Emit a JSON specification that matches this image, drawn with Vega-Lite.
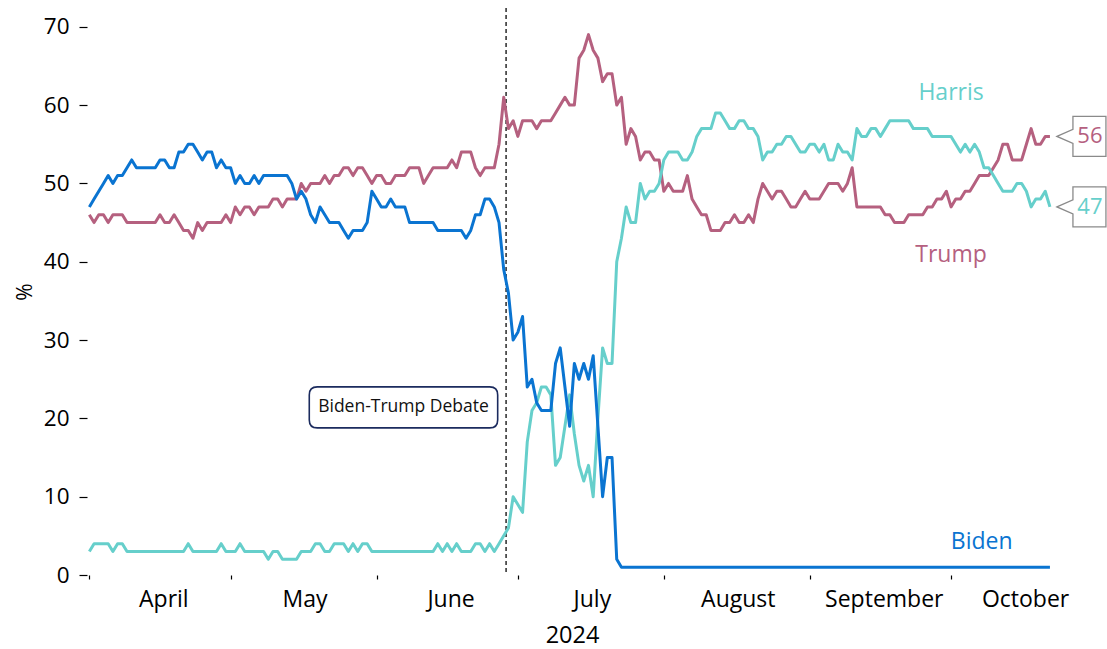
{
  "$schema": "https://vega.github.io/schema/vega-lite/v6.json",
  "width": 970,
  "height": 567,
  "autosize": {"type": "none"},
  "padding": {"left": 87, "top": 8, "right": 50, "bottom": 74},
  "background": "white",
  "config": {
    "view": {"stroke": null},
    "font": "Open Sans",
    "axis": {"grid": false, "domain": false, "labelColor": "#000", "titleColor": "#000", "tickColor": "#000", "labelFont": "Open Sans", "titleFont": "Open Sans"}
  },
  "datasets": {
    "polls": [
      {"date":"2024-04-01","candidate":"Trump","pct":46},{"date":"2024-04-02","candidate":"Trump","pct":45},{"date":"2024-04-03","candidate":"Trump","pct":46},{"date":"2024-04-04","candidate":"Trump","pct":46},{"date":"2024-04-05","candidate":"Trump","pct":45},{"date":"2024-04-06","candidate":"Trump","pct":46},{"date":"2024-04-07","candidate":"Trump","pct":46},{"date":"2024-04-08","candidate":"Trump","pct":46},{"date":"2024-04-09","candidate":"Trump","pct":45},{"date":"2024-04-10","candidate":"Trump","pct":45},
      {"date":"2024-04-11","candidate":"Trump","pct":45},{"date":"2024-04-12","candidate":"Trump","pct":45},{"date":"2024-04-13","candidate":"Trump","pct":45},{"date":"2024-04-14","candidate":"Trump","pct":45},{"date":"2024-04-15","candidate":"Trump","pct":45},{"date":"2024-04-16","candidate":"Trump","pct":46},{"date":"2024-04-17","candidate":"Trump","pct":45},{"date":"2024-04-18","candidate":"Trump","pct":45},{"date":"2024-04-19","candidate":"Trump","pct":46},{"date":"2024-04-20","candidate":"Trump","pct":45},
      {"date":"2024-04-21","candidate":"Trump","pct":44},{"date":"2024-04-22","candidate":"Trump","pct":44},{"date":"2024-04-23","candidate":"Trump","pct":43},{"date":"2024-04-24","candidate":"Trump","pct":45},{"date":"2024-04-25","candidate":"Trump","pct":44},{"date":"2024-04-26","candidate":"Trump","pct":45},{"date":"2024-04-27","candidate":"Trump","pct":45},{"date":"2024-04-28","candidate":"Trump","pct":45},{"date":"2024-04-29","candidate":"Trump","pct":45},{"date":"2024-04-30","candidate":"Trump","pct":46},
      {"date":"2024-05-01","candidate":"Trump","pct":45},{"date":"2024-05-02","candidate":"Trump","pct":47},{"date":"2024-05-03","candidate":"Trump","pct":46},{"date":"2024-05-04","candidate":"Trump","pct":47},{"date":"2024-05-05","candidate":"Trump","pct":47},{"date":"2024-05-06","candidate":"Trump","pct":46},{"date":"2024-05-07","candidate":"Trump","pct":47},{"date":"2024-05-08","candidate":"Trump","pct":47},{"date":"2024-05-09","candidate":"Trump","pct":47},{"date":"2024-05-10","candidate":"Trump","pct":48},
      {"date":"2024-05-11","candidate":"Trump","pct":48},{"date":"2024-05-12","candidate":"Trump","pct":47},{"date":"2024-05-13","candidate":"Trump","pct":48},{"date":"2024-05-14","candidate":"Trump","pct":48},{"date":"2024-05-15","candidate":"Trump","pct":48},{"date":"2024-05-16","candidate":"Trump","pct":50},{"date":"2024-05-17","candidate":"Trump","pct":49},{"date":"2024-05-18","candidate":"Trump","pct":50},{"date":"2024-05-19","candidate":"Trump","pct":50},{"date":"2024-05-20","candidate":"Trump","pct":50},
      {"date":"2024-05-21","candidate":"Trump","pct":51},{"date":"2024-05-22","candidate":"Trump","pct":50},{"date":"2024-05-23","candidate":"Trump","pct":51},{"date":"2024-05-24","candidate":"Trump","pct":51},{"date":"2024-05-25","candidate":"Trump","pct":52},{"date":"2024-05-26","candidate":"Trump","pct":52},{"date":"2024-05-27","candidate":"Trump","pct":51},{"date":"2024-05-28","candidate":"Trump","pct":52},{"date":"2024-05-29","candidate":"Trump","pct":52},{"date":"2024-05-30","candidate":"Trump","pct":51},
      {"date":"2024-05-31","candidate":"Trump","pct":50},
      {"date":"2024-06-01","candidate":"Trump","pct":51},{"date":"2024-06-02","candidate":"Trump","pct":51},{"date":"2024-06-03","candidate":"Trump","pct":50},{"date":"2024-06-04","candidate":"Trump","pct":50},{"date":"2024-06-05","candidate":"Trump","pct":51},{"date":"2024-06-06","candidate":"Trump","pct":51},{"date":"2024-06-07","candidate":"Trump","pct":51},{"date":"2024-06-08","candidate":"Trump","pct":52},{"date":"2024-06-09","candidate":"Trump","pct":52},{"date":"2024-06-10","candidate":"Trump","pct":52},
      {"date":"2024-06-11","candidate":"Trump","pct":50},{"date":"2024-06-12","candidate":"Trump","pct":51},{"date":"2024-06-13","candidate":"Trump","pct":52},{"date":"2024-06-14","candidate":"Trump","pct":52},{"date":"2024-06-15","candidate":"Trump","pct":52},{"date":"2024-06-16","candidate":"Trump","pct":52},{"date":"2024-06-17","candidate":"Trump","pct":53},{"date":"2024-06-18","candidate":"Trump","pct":52},{"date":"2024-06-19","candidate":"Trump","pct":54},{"date":"2024-06-20","candidate":"Trump","pct":54},
      {"date":"2024-06-21","candidate":"Trump","pct":54},{"date":"2024-06-22","candidate":"Trump","pct":52},{"date":"2024-06-23","candidate":"Trump","pct":51},{"date":"2024-06-24","candidate":"Trump","pct":52},{"date":"2024-06-25","candidate":"Trump","pct":52},{"date":"2024-06-26","candidate":"Trump","pct":52},{"date":"2024-06-27","candidate":"Trump","pct":55},{"date":"2024-06-28","candidate":"Trump","pct":61},{"date":"2024-06-29","candidate":"Trump","pct":57},{"date":"2024-06-30","candidate":"Trump","pct":58},
      {"date":"2024-07-01","candidate":"Trump","pct":56},{"date":"2024-07-02","candidate":"Trump","pct":58},{"date":"2024-07-03","candidate":"Trump","pct":58},{"date":"2024-07-04","candidate":"Trump","pct":58},{"date":"2024-07-05","candidate":"Trump","pct":57},{"date":"2024-07-06","candidate":"Trump","pct":58},{"date":"2024-07-07","candidate":"Trump","pct":58},{"date":"2024-07-08","candidate":"Trump","pct":58},{"date":"2024-07-09","candidate":"Trump","pct":59},{"date":"2024-07-10","candidate":"Trump","pct":60},
      {"date":"2024-07-11","candidate":"Trump","pct":61},{"date":"2024-07-12","candidate":"Trump","pct":60},{"date":"2024-07-13","candidate":"Trump","pct":60},{"date":"2024-07-14","candidate":"Trump","pct":66},{"date":"2024-07-15","candidate":"Trump","pct":67},{"date":"2024-07-16","candidate":"Trump","pct":69},{"date":"2024-07-17","candidate":"Trump","pct":67},{"date":"2024-07-18","candidate":"Trump","pct":66},{"date":"2024-07-19","candidate":"Trump","pct":63},{"date":"2024-07-20","candidate":"Trump","pct":64},
      {"date":"2024-07-21","candidate":"Trump","pct":64},{"date":"2024-07-22","candidate":"Trump","pct":60},{"date":"2024-07-23","candidate":"Trump","pct":61},{"date":"2024-07-24","candidate":"Trump","pct":55},{"date":"2024-07-25","candidate":"Trump","pct":57},{"date":"2024-07-26","candidate":"Trump","pct":56},{"date":"2024-07-27","candidate":"Trump","pct":53},{"date":"2024-07-28","candidate":"Trump","pct":54},{"date":"2024-07-29","candidate":"Trump","pct":54},{"date":"2024-07-30","candidate":"Trump","pct":53},
      {"date":"2024-07-31","candidate":"Trump","pct":53},
      {"date":"2024-08-01","candidate":"Trump","pct":49},{"date":"2024-08-02","candidate":"Trump","pct":50},{"date":"2024-08-03","candidate":"Trump","pct":49},{"date":"2024-08-04","candidate":"Trump","pct":49},{"date":"2024-08-05","candidate":"Trump","pct":49},{"date":"2024-08-06","candidate":"Trump","pct":51},{"date":"2024-08-07","candidate":"Trump","pct":48},{"date":"2024-08-08","candidate":"Trump","pct":47},{"date":"2024-08-09","candidate":"Trump","pct":46},{"date":"2024-08-10","candidate":"Trump","pct":46},
      {"date":"2024-08-11","candidate":"Trump","pct":44},{"date":"2024-08-12","candidate":"Trump","pct":44},{"date":"2024-08-13","candidate":"Trump","pct":44},{"date":"2024-08-14","candidate":"Trump","pct":45},{"date":"2024-08-15","candidate":"Trump","pct":45},{"date":"2024-08-16","candidate":"Trump","pct":46},{"date":"2024-08-17","candidate":"Trump","pct":45},{"date":"2024-08-18","candidate":"Trump","pct":45},{"date":"2024-08-19","candidate":"Trump","pct":46},{"date":"2024-08-20","candidate":"Trump","pct":45},
      {"date":"2024-08-21","candidate":"Trump","pct":48},{"date":"2024-08-22","candidate":"Trump","pct":50},{"date":"2024-08-23","candidate":"Trump","pct":49},{"date":"2024-08-24","candidate":"Trump","pct":48},{"date":"2024-08-25","candidate":"Trump","pct":49},{"date":"2024-08-26","candidate":"Trump","pct":49},{"date":"2024-08-27","candidate":"Trump","pct":48},{"date":"2024-08-28","candidate":"Trump","pct":47},{"date":"2024-08-29","candidate":"Trump","pct":47},{"date":"2024-08-30","candidate":"Trump","pct":48},
      {"date":"2024-08-31","candidate":"Trump","pct":49},
      {"date":"2024-09-01","candidate":"Trump","pct":48},{"date":"2024-09-02","candidate":"Trump","pct":48},{"date":"2024-09-03","candidate":"Trump","pct":48},{"date":"2024-09-04","candidate":"Trump","pct":49},{"date":"2024-09-05","candidate":"Trump","pct":50},{"date":"2024-09-06","candidate":"Trump","pct":50},{"date":"2024-09-07","candidate":"Trump","pct":50},{"date":"2024-09-08","candidate":"Trump","pct":49},{"date":"2024-09-09","candidate":"Trump","pct":50},{"date":"2024-09-10","candidate":"Trump","pct":52},
      {"date":"2024-09-11","candidate":"Trump","pct":47},{"date":"2024-09-12","candidate":"Trump","pct":47},{"date":"2024-09-13","candidate":"Trump","pct":47},{"date":"2024-09-14","candidate":"Trump","pct":47},{"date":"2024-09-15","candidate":"Trump","pct":47},{"date":"2024-09-16","candidate":"Trump","pct":47},{"date":"2024-09-17","candidate":"Trump","pct":46},{"date":"2024-09-18","candidate":"Trump","pct":46},{"date":"2024-09-19","candidate":"Trump","pct":45},{"date":"2024-09-20","candidate":"Trump","pct":45},
      {"date":"2024-09-21","candidate":"Trump","pct":45},{"date":"2024-09-22","candidate":"Trump","pct":46},{"date":"2024-09-23","candidate":"Trump","pct":46},{"date":"2024-09-24","candidate":"Trump","pct":46},{"date":"2024-09-25","candidate":"Trump","pct":46},{"date":"2024-09-26","candidate":"Trump","pct":47},{"date":"2024-09-27","candidate":"Trump","pct":47},{"date":"2024-09-28","candidate":"Trump","pct":48},{"date":"2024-09-29","candidate":"Trump","pct":48},{"date":"2024-09-30","candidate":"Trump","pct":49},
      {"date":"2024-10-01","candidate":"Trump","pct":47},{"date":"2024-10-02","candidate":"Trump","pct":48},{"date":"2024-10-03","candidate":"Trump","pct":48},{"date":"2024-10-04","candidate":"Trump","pct":49},{"date":"2024-10-05","candidate":"Trump","pct":49},{"date":"2024-10-06","candidate":"Trump","pct":50},{"date":"2024-10-07","candidate":"Trump","pct":51},{"date":"2024-10-08","candidate":"Trump","pct":51},{"date":"2024-10-09","candidate":"Trump","pct":51},{"date":"2024-10-10","candidate":"Trump","pct":52},
      {"date":"2024-10-11","candidate":"Trump","pct":53},{"date":"2024-10-12","candidate":"Trump","pct":55},{"date":"2024-10-13","candidate":"Trump","pct":55},{"date":"2024-10-14","candidate":"Trump","pct":53},{"date":"2024-10-15","candidate":"Trump","pct":53},{"date":"2024-10-16","candidate":"Trump","pct":53},{"date":"2024-10-17","candidate":"Trump","pct":55},{"date":"2024-10-18","candidate":"Trump","pct":57},{"date":"2024-10-19","candidate":"Trump","pct":55},{"date":"2024-10-20","candidate":"Trump","pct":55},
      {"date":"2024-10-21","candidate":"Trump","pct":56},{"date":"2024-10-22","candidate":"Trump","pct":56},

      {"date":"2024-04-01","candidate":"Harris","pct":3},{"date":"2024-04-02","candidate":"Harris","pct":4},{"date":"2024-04-03","candidate":"Harris","pct":4},{"date":"2024-04-04","candidate":"Harris","pct":4},{"date":"2024-04-05","candidate":"Harris","pct":4},{"date":"2024-04-06","candidate":"Harris","pct":3},{"date":"2024-04-07","candidate":"Harris","pct":4},{"date":"2024-04-08","candidate":"Harris","pct":4},{"date":"2024-04-09","candidate":"Harris","pct":3},{"date":"2024-04-10","candidate":"Harris","pct":3},
      {"date":"2024-04-11","candidate":"Harris","pct":3},{"date":"2024-04-12","candidate":"Harris","pct":3},{"date":"2024-04-13","candidate":"Harris","pct":3},{"date":"2024-04-14","candidate":"Harris","pct":3},{"date":"2024-04-15","candidate":"Harris","pct":3},{"date":"2024-04-16","candidate":"Harris","pct":3},{"date":"2024-04-17","candidate":"Harris","pct":3},{"date":"2024-04-18","candidate":"Harris","pct":3},{"date":"2024-04-19","candidate":"Harris","pct":3},{"date":"2024-04-20","candidate":"Harris","pct":3},
      {"date":"2024-04-21","candidate":"Harris","pct":3},{"date":"2024-04-22","candidate":"Harris","pct":4},{"date":"2024-04-23","candidate":"Harris","pct":3},{"date":"2024-04-24","candidate":"Harris","pct":3},{"date":"2024-04-25","candidate":"Harris","pct":3},{"date":"2024-04-26","candidate":"Harris","pct":3},{"date":"2024-04-27","candidate":"Harris","pct":3},{"date":"2024-04-28","candidate":"Harris","pct":3},{"date":"2024-04-29","candidate":"Harris","pct":4},{"date":"2024-04-30","candidate":"Harris","pct":3},
      {"date":"2024-05-01","candidate":"Harris","pct":3},{"date":"2024-05-02","candidate":"Harris","pct":3},{"date":"2024-05-03","candidate":"Harris","pct":4},{"date":"2024-05-04","candidate":"Harris","pct":3},{"date":"2024-05-05","candidate":"Harris","pct":3},{"date":"2024-05-06","candidate":"Harris","pct":3},{"date":"2024-05-07","candidate":"Harris","pct":3},{"date":"2024-05-08","candidate":"Harris","pct":3},{"date":"2024-05-09","candidate":"Harris","pct":2},{"date":"2024-05-10","candidate":"Harris","pct":3},
      {"date":"2024-05-11","candidate":"Harris","pct":3},{"date":"2024-05-12","candidate":"Harris","pct":2},{"date":"2024-05-13","candidate":"Harris","pct":2},{"date":"2024-05-14","candidate":"Harris","pct":2},{"date":"2024-05-15","candidate":"Harris","pct":2},{"date":"2024-05-16","candidate":"Harris","pct":3},{"date":"2024-05-17","candidate":"Harris","pct":3},{"date":"2024-05-18","candidate":"Harris","pct":3},{"date":"2024-05-19","candidate":"Harris","pct":4},{"date":"2024-05-20","candidate":"Harris","pct":4},
      {"date":"2024-05-21","candidate":"Harris","pct":3},{"date":"2024-05-22","candidate":"Harris","pct":3},{"date":"2024-05-23","candidate":"Harris","pct":4},{"date":"2024-05-24","candidate":"Harris","pct":4},{"date":"2024-05-25","candidate":"Harris","pct":4},{"date":"2024-05-26","candidate":"Harris","pct":3},{"date":"2024-05-27","candidate":"Harris","pct":4},{"date":"2024-05-28","candidate":"Harris","pct":3},{"date":"2024-05-29","candidate":"Harris","pct":4},{"date":"2024-05-30","candidate":"Harris","pct":4},
      {"date":"2024-05-31","candidate":"Harris","pct":3},
      {"date":"2024-06-01","candidate":"Harris","pct":3},{"date":"2024-06-02","candidate":"Harris","pct":3},{"date":"2024-06-03","candidate":"Harris","pct":3},{"date":"2024-06-04","candidate":"Harris","pct":3},{"date":"2024-06-05","candidate":"Harris","pct":3},{"date":"2024-06-06","candidate":"Harris","pct":3},{"date":"2024-06-07","candidate":"Harris","pct":3},{"date":"2024-06-08","candidate":"Harris","pct":3},{"date":"2024-06-09","candidate":"Harris","pct":3},{"date":"2024-06-10","candidate":"Harris","pct":3},
      {"date":"2024-06-11","candidate":"Harris","pct":3},{"date":"2024-06-12","candidate":"Harris","pct":3},{"date":"2024-06-13","candidate":"Harris","pct":3},{"date":"2024-06-14","candidate":"Harris","pct":4},{"date":"2024-06-15","candidate":"Harris","pct":3},{"date":"2024-06-16","candidate":"Harris","pct":4},{"date":"2024-06-17","candidate":"Harris","pct":3},{"date":"2024-06-18","candidate":"Harris","pct":4},{"date":"2024-06-19","candidate":"Harris","pct":3},{"date":"2024-06-20","candidate":"Harris","pct":3},
      {"date":"2024-06-21","candidate":"Harris","pct":3},{"date":"2024-06-22","candidate":"Harris","pct":4},{"date":"2024-06-23","candidate":"Harris","pct":4},{"date":"2024-06-24","candidate":"Harris","pct":3},{"date":"2024-06-25","candidate":"Harris","pct":4},{"date":"2024-06-26","candidate":"Harris","pct":3},{"date":"2024-06-27","candidate":"Harris","pct":4},{"date":"2024-06-28","candidate":"Harris","pct":5},{"date":"2024-06-29","candidate":"Harris","pct":6},{"date":"2024-06-30","candidate":"Harris","pct":10},
      {"date":"2024-07-01","candidate":"Harris","pct":9},{"date":"2024-07-02","candidate":"Harris","pct":8},{"date":"2024-07-03","candidate":"Harris","pct":17},{"date":"2024-07-04","candidate":"Harris","pct":21},{"date":"2024-07-05","candidate":"Harris","pct":22},{"date":"2024-07-06","candidate":"Harris","pct":24},{"date":"2024-07-07","candidate":"Harris","pct":24},{"date":"2024-07-08","candidate":"Harris","pct":23},{"date":"2024-07-09","candidate":"Harris","pct":14},{"date":"2024-07-10","candidate":"Harris","pct":15},
      {"date":"2024-07-11","candidate":"Harris","pct":19},{"date":"2024-07-12","candidate":"Harris","pct":23},{"date":"2024-07-13","candidate":"Harris","pct":18},{"date":"2024-07-14","candidate":"Harris","pct":14},{"date":"2024-07-15","candidate":"Harris","pct":12},{"date":"2024-07-16","candidate":"Harris","pct":14},{"date":"2024-07-17","candidate":"Harris","pct":10},{"date":"2024-07-18","candidate":"Harris","pct":20},{"date":"2024-07-19","candidate":"Harris","pct":29},{"date":"2024-07-20","candidate":"Harris","pct":27},
      {"date":"2024-07-21","candidate":"Harris","pct":27},{"date":"2024-07-22","candidate":"Harris","pct":40},{"date":"2024-07-23","candidate":"Harris","pct":43},{"date":"2024-07-24","candidate":"Harris","pct":47},{"date":"2024-07-25","candidate":"Harris","pct":45},{"date":"2024-07-26","candidate":"Harris","pct":45},{"date":"2024-07-27","candidate":"Harris","pct":50},{"date":"2024-07-28","candidate":"Harris","pct":48},{"date":"2024-07-29","candidate":"Harris","pct":49},{"date":"2024-07-30","candidate":"Harris","pct":49},
      {"date":"2024-07-31","candidate":"Harris","pct":50},
      {"date":"2024-08-01","candidate":"Harris","pct":53},{"date":"2024-08-02","candidate":"Harris","pct":54},{"date":"2024-08-03","candidate":"Harris","pct":54},{"date":"2024-08-04","candidate":"Harris","pct":54},{"date":"2024-08-05","candidate":"Harris","pct":53},{"date":"2024-08-06","candidate":"Harris","pct":53},{"date":"2024-08-07","candidate":"Harris","pct":54},{"date":"2024-08-08","candidate":"Harris","pct":56},{"date":"2024-08-09","candidate":"Harris","pct":57},{"date":"2024-08-10","candidate":"Harris","pct":57},
      {"date":"2024-08-11","candidate":"Harris","pct":57},{"date":"2024-08-12","candidate":"Harris","pct":59},{"date":"2024-08-13","candidate":"Harris","pct":59},{"date":"2024-08-14","candidate":"Harris","pct":58},{"date":"2024-08-15","candidate":"Harris","pct":57},{"date":"2024-08-16","candidate":"Harris","pct":57},{"date":"2024-08-17","candidate":"Harris","pct":58},{"date":"2024-08-18","candidate":"Harris","pct":58},{"date":"2024-08-19","candidate":"Harris","pct":57},{"date":"2024-08-20","candidate":"Harris","pct":57},
      {"date":"2024-08-21","candidate":"Harris","pct":56},{"date":"2024-08-22","candidate":"Harris","pct":53},{"date":"2024-08-23","candidate":"Harris","pct":54},{"date":"2024-08-24","candidate":"Harris","pct":54},{"date":"2024-08-25","candidate":"Harris","pct":55},{"date":"2024-08-26","candidate":"Harris","pct":55},{"date":"2024-08-27","candidate":"Harris","pct":56},{"date":"2024-08-28","candidate":"Harris","pct":56},{"date":"2024-08-29","candidate":"Harris","pct":55},{"date":"2024-08-30","candidate":"Harris","pct":54},
      {"date":"2024-08-31","candidate":"Harris","pct":54},
      {"date":"2024-09-01","candidate":"Harris","pct":55},{"date":"2024-09-02","candidate":"Harris","pct":55},{"date":"2024-09-03","candidate":"Harris","pct":54},{"date":"2024-09-04","candidate":"Harris","pct":55},{"date":"2024-09-05","candidate":"Harris","pct":53},{"date":"2024-09-06","candidate":"Harris","pct":53},{"date":"2024-09-07","candidate":"Harris","pct":55},{"date":"2024-09-08","candidate":"Harris","pct":54},{"date":"2024-09-09","candidate":"Harris","pct":54},{"date":"2024-09-10","candidate":"Harris","pct":53},
      {"date":"2024-09-11","candidate":"Harris","pct":57},{"date":"2024-09-12","candidate":"Harris","pct":56},{"date":"2024-09-13","candidate":"Harris","pct":56},{"date":"2024-09-14","candidate":"Harris","pct":57},{"date":"2024-09-15","candidate":"Harris","pct":57},{"date":"2024-09-16","candidate":"Harris","pct":56},{"date":"2024-09-17","candidate":"Harris","pct":57},{"date":"2024-09-18","candidate":"Harris","pct":58},{"date":"2024-09-19","candidate":"Harris","pct":58},{"date":"2024-09-20","candidate":"Harris","pct":58},
      {"date":"2024-09-21","candidate":"Harris","pct":58},{"date":"2024-09-22","candidate":"Harris","pct":58},{"date":"2024-09-23","candidate":"Harris","pct":57},{"date":"2024-09-24","candidate":"Harris","pct":57},{"date":"2024-09-25","candidate":"Harris","pct":57},{"date":"2024-09-26","candidate":"Harris","pct":57},{"date":"2024-09-27","candidate":"Harris","pct":56},{"date":"2024-09-28","candidate":"Harris","pct":56},{"date":"2024-09-29","candidate":"Harris","pct":56},{"date":"2024-09-30","candidate":"Harris","pct":56},
      {"date":"2024-10-01","candidate":"Harris","pct":56},{"date":"2024-10-02","candidate":"Harris","pct":55},{"date":"2024-10-03","candidate":"Harris","pct":54},{"date":"2024-10-04","candidate":"Harris","pct":55},{"date":"2024-10-05","candidate":"Harris","pct":54},{"date":"2024-10-06","candidate":"Harris","pct":55},{"date":"2024-10-07","candidate":"Harris","pct":54},{"date":"2024-10-08","candidate":"Harris","pct":52},{"date":"2024-10-09","candidate":"Harris","pct":52},{"date":"2024-10-10","candidate":"Harris","pct":51},
      {"date":"2024-10-11","candidate":"Harris","pct":50},{"date":"2024-10-12","candidate":"Harris","pct":49},{"date":"2024-10-13","candidate":"Harris","pct":49},{"date":"2024-10-14","candidate":"Harris","pct":49},{"date":"2024-10-15","candidate":"Harris","pct":50},{"date":"2024-10-16","candidate":"Harris","pct":50},{"date":"2024-10-17","candidate":"Harris","pct":49},{"date":"2024-10-18","candidate":"Harris","pct":47},{"date":"2024-10-19","candidate":"Harris","pct":48},{"date":"2024-10-20","candidate":"Harris","pct":48},
      {"date":"2024-10-21","candidate":"Harris","pct":49},{"date":"2024-10-22","candidate":"Harris","pct":47},

      {"date":"2024-04-01","candidate":"Biden","pct":47},{"date":"2024-04-02","candidate":"Biden","pct":48},{"date":"2024-04-03","candidate":"Biden","pct":49},{"date":"2024-04-04","candidate":"Biden","pct":50},{"date":"2024-04-05","candidate":"Biden","pct":51},{"date":"2024-04-06","candidate":"Biden","pct":50},{"date":"2024-04-07","candidate":"Biden","pct":51},{"date":"2024-04-08","candidate":"Biden","pct":51},{"date":"2024-04-09","candidate":"Biden","pct":52},{"date":"2024-04-10","candidate":"Biden","pct":53},
      {"date":"2024-04-11","candidate":"Biden","pct":52},{"date":"2024-04-12","candidate":"Biden","pct":52},{"date":"2024-04-13","candidate":"Biden","pct":52},{"date":"2024-04-14","candidate":"Biden","pct":52},{"date":"2024-04-15","candidate":"Biden","pct":52},{"date":"2024-04-16","candidate":"Biden","pct":53},{"date":"2024-04-17","candidate":"Biden","pct":53},{"date":"2024-04-18","candidate":"Biden","pct":52},{"date":"2024-04-19","candidate":"Biden","pct":52},{"date":"2024-04-20","candidate":"Biden","pct":54},
      {"date":"2024-04-21","candidate":"Biden","pct":54},{"date":"2024-04-22","candidate":"Biden","pct":55},{"date":"2024-04-23","candidate":"Biden","pct":55},{"date":"2024-04-24","candidate":"Biden","pct":54},{"date":"2024-04-25","candidate":"Biden","pct":53},{"date":"2024-04-26","candidate":"Biden","pct":54},{"date":"2024-04-27","candidate":"Biden","pct":54},{"date":"2024-04-28","candidate":"Biden","pct":52},{"date":"2024-04-29","candidate":"Biden","pct":53},{"date":"2024-04-30","candidate":"Biden","pct":52},
      {"date":"2024-05-01","candidate":"Biden","pct":52},{"date":"2024-05-02","candidate":"Biden","pct":50},{"date":"2024-05-03","candidate":"Biden","pct":51},{"date":"2024-05-04","candidate":"Biden","pct":50},{"date":"2024-05-05","candidate":"Biden","pct":50},{"date":"2024-05-06","candidate":"Biden","pct":51},{"date":"2024-05-07","candidate":"Biden","pct":50},{"date":"2024-05-08","candidate":"Biden","pct":51},{"date":"2024-05-09","candidate":"Biden","pct":51},{"date":"2024-05-10","candidate":"Biden","pct":51},
      {"date":"2024-05-11","candidate":"Biden","pct":51},{"date":"2024-05-12","candidate":"Biden","pct":51},{"date":"2024-05-13","candidate":"Biden","pct":51},{"date":"2024-05-14","candidate":"Biden","pct":50},{"date":"2024-05-15","candidate":"Biden","pct":48},{"date":"2024-05-16","candidate":"Biden","pct":49},{"date":"2024-05-17","candidate":"Biden","pct":48},{"date":"2024-05-18","candidate":"Biden","pct":46},{"date":"2024-05-19","candidate":"Biden","pct":45},{"date":"2024-05-20","candidate":"Biden","pct":47},
      {"date":"2024-05-21","candidate":"Biden","pct":46},{"date":"2024-05-22","candidate":"Biden","pct":45},{"date":"2024-05-23","candidate":"Biden","pct":45},{"date":"2024-05-24","candidate":"Biden","pct":45},{"date":"2024-05-25","candidate":"Biden","pct":44},{"date":"2024-05-26","candidate":"Biden","pct":43},{"date":"2024-05-27","candidate":"Biden","pct":44},{"date":"2024-05-28","candidate":"Biden","pct":44},{"date":"2024-05-29","candidate":"Biden","pct":44},{"date":"2024-05-30","candidate":"Biden","pct":45},
      {"date":"2024-05-31","candidate":"Biden","pct":49},
      {"date":"2024-06-01","candidate":"Biden","pct":48},{"date":"2024-06-02","candidate":"Biden","pct":47},{"date":"2024-06-03","candidate":"Biden","pct":47},{"date":"2024-06-04","candidate":"Biden","pct":48},{"date":"2024-06-05","candidate":"Biden","pct":47},{"date":"2024-06-06","candidate":"Biden","pct":47},{"date":"2024-06-07","candidate":"Biden","pct":47},{"date":"2024-06-08","candidate":"Biden","pct":45},{"date":"2024-06-09","candidate":"Biden","pct":45},{"date":"2024-06-10","candidate":"Biden","pct":45},
      {"date":"2024-06-11","candidate":"Biden","pct":45},{"date":"2024-06-12","candidate":"Biden","pct":45},{"date":"2024-06-13","candidate":"Biden","pct":45},{"date":"2024-06-14","candidate":"Biden","pct":44},{"date":"2024-06-15","candidate":"Biden","pct":44},{"date":"2024-06-16","candidate":"Biden","pct":44},{"date":"2024-06-17","candidate":"Biden","pct":44},{"date":"2024-06-18","candidate":"Biden","pct":44},{"date":"2024-06-19","candidate":"Biden","pct":44},{"date":"2024-06-20","candidate":"Biden","pct":43},
      {"date":"2024-06-21","candidate":"Biden","pct":44},{"date":"2024-06-22","candidate":"Biden","pct":46},{"date":"2024-06-23","candidate":"Biden","pct":46},{"date":"2024-06-24","candidate":"Biden","pct":48},{"date":"2024-06-25","candidate":"Biden","pct":48},{"date":"2024-06-26","candidate":"Biden","pct":47},{"date":"2024-06-27","candidate":"Biden","pct":45},{"date":"2024-06-28","candidate":"Biden","pct":39},{"date":"2024-06-29","candidate":"Biden","pct":36},{"date":"2024-06-30","candidate":"Biden","pct":30},
      {"date":"2024-07-01","candidate":"Biden","pct":31},{"date":"2024-07-02","candidate":"Biden","pct":33},{"date":"2024-07-03","candidate":"Biden","pct":24},{"date":"2024-07-04","candidate":"Biden","pct":25},{"date":"2024-07-05","candidate":"Biden","pct":22},{"date":"2024-07-06","candidate":"Biden","pct":21},{"date":"2024-07-07","candidate":"Biden","pct":21},{"date":"2024-07-08","candidate":"Biden","pct":21},{"date":"2024-07-09","candidate":"Biden","pct":27},{"date":"2024-07-10","candidate":"Biden","pct":29},
      {"date":"2024-07-11","candidate":"Biden","pct":24},{"date":"2024-07-12","candidate":"Biden","pct":19},{"date":"2024-07-13","candidate":"Biden","pct":27},{"date":"2024-07-14","candidate":"Biden","pct":25},{"date":"2024-07-15","candidate":"Biden","pct":27},{"date":"2024-07-16","candidate":"Biden","pct":25},{"date":"2024-07-17","candidate":"Biden","pct":28},{"date":"2024-07-18","candidate":"Biden","pct":19},{"date":"2024-07-19","candidate":"Biden","pct":10},{"date":"2024-07-20","candidate":"Biden","pct":15},
      {"date":"2024-07-21","candidate":"Biden","pct":15},{"date":"2024-07-22","candidate":"Biden","pct":2},{"date":"2024-07-23","candidate":"Biden","pct":1},{"date":"2024-07-24","candidate":"Biden","pct":1},{"date":"2024-07-25","candidate":"Biden","pct":1},{"date":"2024-07-26","candidate":"Biden","pct":1},{"date":"2024-07-27","candidate":"Biden","pct":1},{"date":"2024-07-28","candidate":"Biden","pct":1},{"date":"2024-07-29","candidate":"Biden","pct":1},{"date":"2024-07-30","candidate":"Biden","pct":1},
      {"date":"2024-07-31","candidate":"Biden","pct":1},
      {"date":"2024-08-01","candidate":"Biden","pct":1},{"date":"2024-08-02","candidate":"Biden","pct":1},{"date":"2024-08-03","candidate":"Biden","pct":1},{"date":"2024-08-04","candidate":"Biden","pct":1},{"date":"2024-08-05","candidate":"Biden","pct":1},{"date":"2024-08-06","candidate":"Biden","pct":1},{"date":"2024-08-07","candidate":"Biden","pct":1},{"date":"2024-08-08","candidate":"Biden","pct":1},{"date":"2024-08-09","candidate":"Biden","pct":1},{"date":"2024-08-10","candidate":"Biden","pct":1},
      {"date":"2024-08-11","candidate":"Biden","pct":1},{"date":"2024-08-12","candidate":"Biden","pct":1},{"date":"2024-08-13","candidate":"Biden","pct":1},{"date":"2024-08-14","candidate":"Biden","pct":1},{"date":"2024-08-15","candidate":"Biden","pct":1},{"date":"2024-08-16","candidate":"Biden","pct":1},{"date":"2024-08-17","candidate":"Biden","pct":1},{"date":"2024-08-18","candidate":"Biden","pct":1},{"date":"2024-08-19","candidate":"Biden","pct":1},{"date":"2024-08-20","candidate":"Biden","pct":1},
      {"date":"2024-08-21","candidate":"Biden","pct":1},{"date":"2024-08-22","candidate":"Biden","pct":1},{"date":"2024-08-23","candidate":"Biden","pct":1},{"date":"2024-08-24","candidate":"Biden","pct":1},{"date":"2024-08-25","candidate":"Biden","pct":1},{"date":"2024-08-26","candidate":"Biden","pct":1},{"date":"2024-08-27","candidate":"Biden","pct":1},{"date":"2024-08-28","candidate":"Biden","pct":1},{"date":"2024-08-29","candidate":"Biden","pct":1},{"date":"2024-08-30","candidate":"Biden","pct":1},
      {"date":"2024-08-31","candidate":"Biden","pct":1},
      {"date":"2024-09-01","candidate":"Biden","pct":1},{"date":"2024-09-02","candidate":"Biden","pct":1},{"date":"2024-09-03","candidate":"Biden","pct":1},{"date":"2024-09-04","candidate":"Biden","pct":1},{"date":"2024-09-05","candidate":"Biden","pct":1},{"date":"2024-09-06","candidate":"Biden","pct":1},{"date":"2024-09-07","candidate":"Biden","pct":1},{"date":"2024-09-08","candidate":"Biden","pct":1},{"date":"2024-09-09","candidate":"Biden","pct":1},{"date":"2024-09-10","candidate":"Biden","pct":1},
      {"date":"2024-09-11","candidate":"Biden","pct":1},{"date":"2024-09-12","candidate":"Biden","pct":1},{"date":"2024-09-13","candidate":"Biden","pct":1},{"date":"2024-09-14","candidate":"Biden","pct":1},{"date":"2024-09-15","candidate":"Biden","pct":1},{"date":"2024-09-16","candidate":"Biden","pct":1},{"date":"2024-09-17","candidate":"Biden","pct":1},{"date":"2024-09-18","candidate":"Biden","pct":1},{"date":"2024-09-19","candidate":"Biden","pct":1},{"date":"2024-09-20","candidate":"Biden","pct":1},
      {"date":"2024-09-21","candidate":"Biden","pct":1},{"date":"2024-09-22","candidate":"Biden","pct":1},{"date":"2024-09-23","candidate":"Biden","pct":1},{"date":"2024-09-24","candidate":"Biden","pct":1},{"date":"2024-09-25","candidate":"Biden","pct":1},{"date":"2024-09-26","candidate":"Biden","pct":1},{"date":"2024-09-27","candidate":"Biden","pct":1},{"date":"2024-09-28","candidate":"Biden","pct":1},{"date":"2024-09-29","candidate":"Biden","pct":1},{"date":"2024-09-30","candidate":"Biden","pct":1},
      {"date":"2024-10-01","candidate":"Biden","pct":1},{"date":"2024-10-02","candidate":"Biden","pct":1},{"date":"2024-10-03","candidate":"Biden","pct":1},{"date":"2024-10-04","candidate":"Biden","pct":1},{"date":"2024-10-05","candidate":"Biden","pct":1},{"date":"2024-10-06","candidate":"Biden","pct":1},{"date":"2024-10-07","candidate":"Biden","pct":1},{"date":"2024-10-08","candidate":"Biden","pct":1},{"date":"2024-10-09","candidate":"Biden","pct":1},{"date":"2024-10-10","candidate":"Biden","pct":1},
      {"date":"2024-10-11","candidate":"Biden","pct":1},{"date":"2024-10-12","candidate":"Biden","pct":1},{"date":"2024-10-13","candidate":"Biden","pct":1},{"date":"2024-10-14","candidate":"Biden","pct":1},{"date":"2024-10-15","candidate":"Biden","pct":1},{"date":"2024-10-16","candidate":"Biden","pct":1},{"date":"2024-10-17","candidate":"Biden","pct":1},{"date":"2024-10-18","candidate":"Biden","pct":1},{"date":"2024-10-19","candidate":"Biden","pct":1},{"date":"2024-10-20","candidate":"Biden","pct":1},
      {"date":"2024-10-21","candidate":"Biden","pct":1},{"date":"2024-10-22","candidate":"Biden","pct":1}
    ],
    "events": [
      {"date": "2024-06-28T12:00:00Z", "event": "Biden-Trump Debate"}
    ],
    "names": [
      {"candidate": "Harris", "date": "2024-10-01", "level": 60.6},
      {"candidate": "Trump", "date": "2024-10-01", "level": 40.0},
      {"candidate": "Biden", "date": "2024-10-07T12:00:00Z", "level": 3.3}
    ]
  },
  "layer": [
    {
      "data": {"name": "events"},
      "mark": {"type": "rule", "color": "#1a1a1a", "strokeWidth": 1.4, "strokeDash": [4, 3]},
      "encoding": {
        "x": {
          "field": "date",
          "type": "temporal",
          "title": "2024",
          "scale": {
            "type": "utc",
            "domain": [
              {"year": 2024, "month": 3, "date": 31, "hours": 12, "utc": true},
              {"year": 2024, "month": 10, "date": 23, "hours": 12, "utc": true}
            ],
            "nice": false
          },
          "axis": {
            "values": [
              {"year": 2024, "month": 4, "date": 1, "utc": true},
              {"year": 2024, "month": 5, "date": 1, "utc": true},
              {"year": 2024, "month": 6, "date": 1, "utc": true},
              {"year": 2024, "month": 7, "date": 1, "utc": true},
              {"year": 2024, "month": 8, "date": 1, "utc": true},
              {"year": 2024, "month": 9, "date": 1, "utc": true},
              {"year": 2024, "month": 10, "date": 1, "utc": true}
            ],
            "labelExpr": "utcFormat(datum.value, '%B')",
            "tickSize": 4,
            "tickWidth": 1.2,
            "labelOffset": 74,
            "labelFontSize": 23,
            "labelPadding": 9,
            "labelOverlap": false,
            "labelBound": false,
            "labelFlush": false,
            "titleFontSize": 23.5,
            "titleFontWeight": "normal",
            "titlePadding": 12
          }
        }
      }
    },
    {
      "data": {"name": "polls"},
      "mark": {"type": "line", "strokeWidth": 3, "strokeJoin": "round", "strokeCap": "butt"},
      "encoding": {
        "x": {"field": "date", "type": "temporal"},
        "y": {
          "field": "pct",
          "type": "quantitative",
          "title": "%",
          "scale": {"domain": [0, 72.4], "nice": false, "zero": true},
          "axis": {
            "values": [0, 10, 20, 30, 40, 50, 60, 70],
            "tickSize": 8,
            "tickWidth": 1.2,
            "labelFontSize": 22.5,
            "labelPadding": 10,
            "titleFontSize": 21,
            "titleFontWeight": "normal",
            "titlePadding": 8
          }
        },
        "color": {
          "field": "candidate",
          "type": "nominal",
          "scale": {"domain": ["Trump", "Harris", "Biden"], "range": ["#B5607F", "#66CFCB", "#0A74D1"]},
          "legend": null
        }
      }
    },
    {
      "data": {"name": "events"},
      "mark": {
        "type": "point",
        "shape": "M-188.8,-20.5L-16.4,-20.5Q-8.4,-20.5,-8.4,-12.5L-8.4,12.5Q-8.4,20.5,-16.4,20.5L-188.8,20.5Q-196.8,20.5,-196.8,12.5L-196.8,-12.5Q-196.8,-20.5,-188.8,-20.5Z",
        "size": 4,
        "filled": true,
        "fill": "white",
        "stroke": "#1B2B5E",
        "strokeWidth": 1.6,
        "opacity": 1
      },
      "encoding": {
        "x": {"field": "date", "type": "temporal"},
        "y": {"datum": 21.4}
      }
    },
    {
      "data": {"name": "events"},
      "mark": {"type": "text", "align": "center", "baseline": "middle", "dx": -102.6, "fontSize": 17.5, "color": "#111"},
      "encoding": {
        "x": {"field": "date", "type": "temporal"},
        "y": {"datum": 21.4},
        "text": {"field": "event"}
      }
    },
    {
      "data": {"name": "names"},
      "mark": {"type": "text", "align": "center", "baseline": "alphabetic", "fontSize": 23},
      "encoding": {
        "x": {"field": "date", "type": "temporal"},
        "y": {"field": "level", "type": "quantitative"},
        "text": {"field": "candidate"},
        "color": {"field": "candidate", "type": "nominal", "legend": null}
      }
    },
    {
      "data": {"name": "polls"},
      "transform": [
        {"filter": {"field": "candidate", "oneOf": ["Trump", "Harris"]}},
        {"filter": {"field": "date", "equal": {"year": 2024, "month": 10, "date": 22, "utc": true}}}
      ],
      "mark": {
        "type": "point",
        "shape": "M7,0L23,-7L23,-20L56,-20L56,20L23,20L23,7Z",
        "size": 4,
        "filled": true,
        "fill": "white",
        "stroke": "#8a8a8a",
        "strokeWidth": 1.3,
        "opacity": 1
      },
      "encoding": {
        "x": {"field": "date", "type": "temporal"},
        "y": {"field": "pct", "type": "quantitative"}
      }
    },
    {
      "data": {"name": "polls"},
      "transform": [
        {"filter": {"field": "candidate", "oneOf": ["Trump", "Harris"]}},
        {"filter": {"field": "date", "equal": {"year": 2024, "month": 10, "date": 22, "utc": true}}}
      ],
      "mark": {"type": "text", "align": "center", "baseline": "middle", "dx": 40, "fontSize": 22},
      "encoding": {
        "x": {"field": "date", "type": "temporal"},
        "y": {"field": "pct", "type": "quantitative"},
        "text": {"field": "pct", "type": "quantitative"},
        "color": {"field": "candidate", "type": "nominal", "legend": null}
      }
    }
  ]
}
